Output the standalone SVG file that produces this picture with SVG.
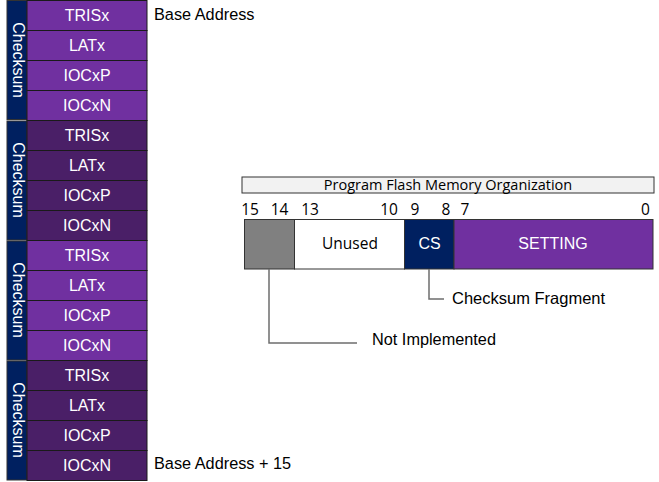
<svg xmlns="http://www.w3.org/2000/svg" width="659" height="482" viewBox="0 0 659 482">
<style>
.cell{stroke:#1a1a1a;stroke-width:1}
.p1{fill:#7030A0}
.p2{fill:#4A1F67}
.cs{fill:#002060;stroke:#333;stroke-width:1}
.ct{font-family:"Liberation Sans",Arial,sans-serif;font-size:16px;fill:#fff;text-anchor:middle}
.lbl{font-family:"Liberation Sans",Arial,sans-serif;font-size:16.3px;fill:#000}
.bit{font-family:"Open Sans","Liberation Sans",sans-serif;font-size:15.5px;fill:#000;text-anchor:middle}
.lead{fill:none;stroke:#6e6e6e;stroke-width:1.5}
</style>
<rect width="659" height="482" fill="#fff"/>
<g id="group1">
<rect class="cs" x="7" y="0.5" width="20" height="119"/>
<text class="ct" transform="translate(12.5,60) rotate(90)">Checksum</text>
<rect class="cell p1" x="27" y="0.5" width="120" height="30"/><text class="ct" x="87" y="21">TRISx</text>
<rect class="cell p1" x="27" y="30.5" width="120" height="30"/><text class="ct" x="87" y="51">LATx</text>
<rect class="cell p1" x="27" y="60.5" width="120" height="30"/><text class="ct" x="87" y="81">IOCxP</text>
<rect class="cell p1" x="27" y="90.5" width="120" height="30"/><text class="ct" x="87" y="111">IOCxN</text>
</g>
<g id="group2">
<rect class="cs" x="7" y="121" width="20" height="119"/>
<text class="ct" transform="translate(12.5,180) rotate(90)">Checksum</text>
<rect class="cell p2" x="27" y="120.5" width="120" height="30"/><text class="ct" x="87" y="141">TRISx</text>
<rect class="cell p2" x="27" y="150.5" width="120" height="30"/><text class="ct" x="87" y="171">LATx</text>
<rect class="cell p2" x="27" y="180.5" width="120" height="30"/><text class="ct" x="87" y="201">IOCxP</text>
<rect class="cell p2" x="27" y="210.5" width="120" height="30"/><text class="ct" x="87" y="231">IOCxN</text>
</g>
<g id="group3">
<rect class="cs" x="7" y="241" width="20" height="119"/>
<text class="ct" transform="translate(12.5,300) rotate(90)">Checksum</text>
<rect class="cell p1" x="27" y="240.5" width="120" height="30"/><text class="ct" x="87" y="261">TRISx</text>
<rect class="cell p1" x="27" y="270.5" width="120" height="30"/><text class="ct" x="87" y="291">LATx</text>
<rect class="cell p1" x="27" y="300.5" width="120" height="30"/><text class="ct" x="87" y="321">IOCxP</text>
<rect class="cell p1" x="27" y="330.5" width="120" height="30"/><text class="ct" x="87" y="351">IOCxN</text>
</g>
<g id="group4">
<rect class="cs" x="7" y="361" width="20" height="119"/>
<text class="ct" transform="translate(12.5,420) rotate(90)">Checksum</text>
<rect class="cell p2" x="27" y="360.5" width="120" height="30"/><text class="ct" x="87" y="381">TRISx</text>
<rect class="cell p2" x="27" y="390.5" width="120" height="30"/><text class="ct" x="87" y="411">LATx</text>
<rect class="cell p2" x="27" y="420.5" width="120" height="30"/><text class="ct" x="87" y="441">IOCxP</text>
<rect class="cell p2" x="27" y="450.5" width="120" height="30"/><text class="ct" x="87" y="471">IOCxN</text>
</g>
<g id="addr-labels">
<text class="lbl" x="154" y="20">Base Address</text>
<text class="lbl" x="154" y="469">Base Address + 15</text>
</g>
<g id="title">
<rect x="242" y="177" width="412" height="16" fill="#F2F2F2" stroke="#333" stroke-width="1"/>
<text x="448" y="190" font-family="Open Sans,Liberation Sans,sans-serif" font-size="14.5" text-anchor="middle" fill="#000">Program Flash Memory Organization</text>
</g>
<g id="bits">
<text class="bit" x="250" y="215">15</text>
<text class="bit" x="279.5" y="215">14</text>
<text class="bit" x="310" y="215">13</text>
<text class="bit" x="389" y="215">10</text>
<text class="bit" x="415" y="215">9</text>
<text class="bit" x="446" y="215">8</text>
<text class="bit" x="465" y="215">7</text>
<text class="bit" x="645.5" y="215">0</text>
</g>
<g id="fields">
<rect x="244.5" y="219.5" width="50" height="49.5" fill="#808080" stroke="#333"/>
<rect x="294.5" y="219.5" width="110" height="49.5" fill="#fff" stroke="#333"/>
<text x="350" y="249" font-family="Open Sans,Liberation Sans,sans-serif" font-size="15.5" text-anchor="middle" fill="#000">Unused</text>
<rect x="404.5" y="219.5" width="49.5" height="49.5" fill="#002060" stroke="#333"/>
<text class="ct" x="429.5" y="249" font-size="16.5">CS</text>
<rect x="454" y="219.5" width="199" height="49.5" fill="#7030A0" stroke="#333"/>
<text class="ct" x="553" y="249">SETTING</text>
</g>
<g id="connectors">
<polyline class="lead" points="269,269 269,343 357,343"/>
<polyline class="lead" points="429,269 429,299 444,299"/>
</g>
<g id="callouts">
<text class="lbl" x="372" y="345">Not Implemented</text>
<text class="lbl" x="452" y="304" style="font-size:16.5px">Checksum Fragment</text>
</g>
</svg>
